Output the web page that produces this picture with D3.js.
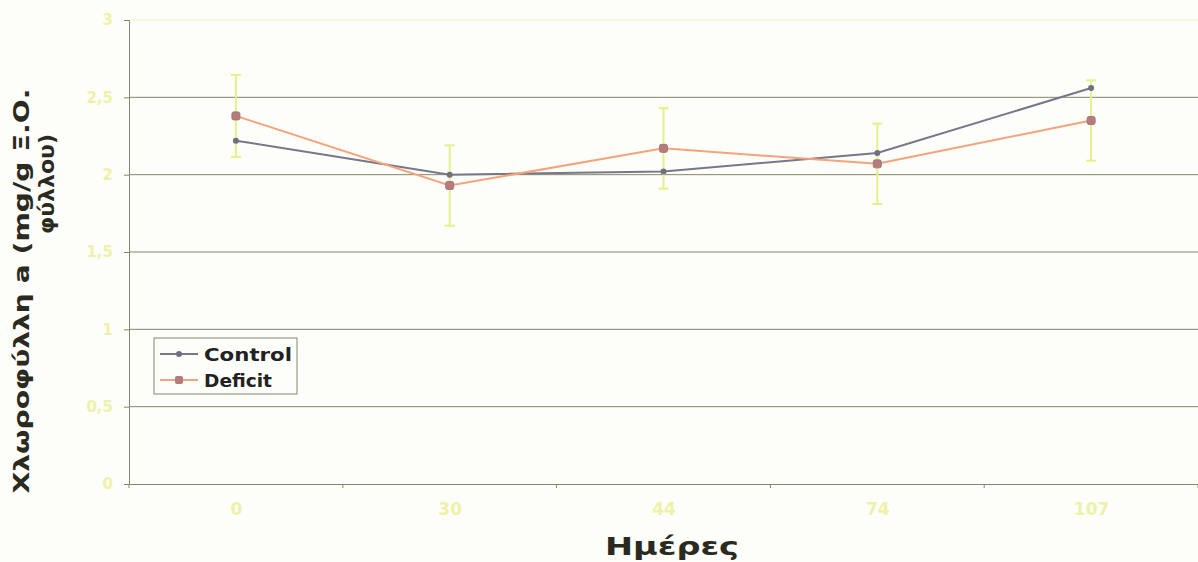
<!DOCTYPE html>
<html>
<head>
<meta charset="utf-8">
<script src="https://cdn.jsdelivr.net/npm/d3@7"></script>
<style>
  body { margin: 0; background: #fdfdf9; }
  text { font-family: "DejaVu Sans", Verdana, sans-serif; }
</style>
</head>
<body>
<script>
const days = ["0", "30", "44", "74", "107"];
const control = [2.22, 2.00, 2.02, 2.14, 2.56];
const deficit = [2.38, 1.93, 2.17, 2.07, 2.35];
const deficitErr = [0.265, 0.26, 0.26, 0.26, 0.26];
const yTicks = [0, 0.5, 1, 1.5, 2, 2.5, 3];

const width = 1198;
const height = 562;
const margin = { top: 20, right: 0, bottom: 78, left: 129 };

const svg = d3.select("body").append("svg")
    .attr("width", width)
    .attr("height", height);

const x = d3.scalePoint()
    .domain(days)
    .range([margin.left, width - margin.right])
    .padding(0.5);

const y = d3.scaleLinear()
    .domain([0, 3])
    .range([height - margin.bottom, margin.top]);

// gridlines
svg.append("g")
    .selectAll("line")
    .data(yTicks.filter(d => d > 0))
    .join("line")
    .attr("x1", margin.left)
    .attr("x2", width - margin.right)
    .attr("y1", d => y(d))
    .attr("y2", d => y(d))
    .attr("stroke", d => d === 3 ? "#eef2c8" : "#86866a")
    .attr("stroke-width", 1);

// y axis
const yAxis = svg.append("g")
    .attr("transform", `translate(${margin.left},0)`)
    .call(d3.axisLeft(y).tickValues(yTicks).tickSize(5)
        .tickFormat(d => String(d).replace(".", ",")));
yAxis.select(".domain").attr("stroke", "#86866a");
yAxis.selectAll(".tick line").attr("stroke", "#86866a");
yAxis.selectAll(".tick text")
    .attr("fill", "#eef2a8")
    .attr("font-size", 15)
    .attr("font-weight", "bold")
    .attr("x", -16);

// x axis
const step = x.step();
const xAxis = svg.append("g")
    .attr("transform", `translate(0,${y(0)})`)
    .call(d3.axisBottom(x).tickSize(0).tickPadding(19));
xAxis.select(".domain").attr("stroke", "#86866a");
xAxis.selectAll(".tick text")
    .attr("fill", "#eef2a8")
    .attr("font-size", 17)
    .attr("font-weight", "bold");
svg.append("g")
    .selectAll("line")
    .data(d3.range(days.length + 1))
    .join("line")
    .attr("x1", i => margin.left + i * step)
    .attr("x2", i => margin.left + i * step)
    .attr("y1", y(0))
    .attr("y2", y(0) + 4)
    .attr("stroke", "#86866a");

// error bars (Deficit)
const eb = svg.append("g")
    .attr("stroke", "#e6f088")
    .attr("stroke-width", 2);
days.forEach((d, i) => {
    const cx = x(d);
    const top = y(deficit[i] + deficitErr[i]);
    const bot = y(deficit[i] - deficitErr[i]);
    eb.append("line").attr("x1", cx).attr("x2", cx).attr("y1", top).attr("y2", bot);
    eb.append("line").attr("x1", cx - 5).attr("x2", cx + 5).attr("y1", top).attr("y2", top);
    eb.append("line").attr("x1", cx - 5).attr("x2", cx + 5).attr("y1", bot).attr("y2", bot);
});

const line = d3.line()
    .x((d, i) => x(days[i]))
    .y(d => y(d));

svg.append("path")
    .datum(control)
    .attr("fill", "none")
    .attr("stroke", "#76788a")
    .attr("stroke-width", 2)
    .attr("d", line);

svg.append("path")
    .datum(deficit)
    .attr("fill", "none")
    .attr("stroke", "#f4a47c")
    .attr("stroke-width", 2)
    .attr("d", line);

svg.append("g")
    .selectAll("circle")
    .data(control)
    .join("circle")
    .attr("cx", (d, i) => x(days[i]))
    .attr("cy", d => y(d))
    .attr("r", 3)
    .attr("fill", "#6e7080");

svg.append("g")
    .selectAll("rect")
    .data(deficit)
    .join("rect")
    .attr("x", (d, i) => x(days[i]) - 4)
    .attr("y", d => y(d) - 4)
    .attr("width", 8)
    .attr("height", 8)
    .attr("rx", 2)
    .attr("fill", "#b87a7a")
    .attr("stroke", "#9a7a7a")
    .attr("stroke-width", 1);

// legend
const legend = svg.append("g").attr("transform", "translate(154,338)");
legend.append("rect")
    .attr("width", 143)
    .attr("height", 56)
    .attr("fill", "#fdfdf9")
    .attr("stroke", "#86866a");
const items = [
    { name: "Control", color: "#76788a", y: 16, len: 88 },
    { name: "Deficit", color: "#f4a47c", y: 42, len: 68 }
];
items.forEach(it => {
    legend.append("line")
        .attr("x1", 6).attr("x2", 44)
        .attr("y1", it.y).attr("y2", it.y)
        .attr("stroke", it.color).attr("stroke-width", 2);
    legend.append("text")
        .attr("x", 50).attr("y", it.y + 7)
        .attr("font-size", 18)
        .attr("font-weight", "bold")
        .attr("fill", "#222")
        .attr("textLength", it.len)
        .attr("lengthAdjust", "spacingAndGlyphs")
        .text(it.name);
});
legend.append("circle").attr("cx", 25).attr("cy", 16).attr("r", 3).attr("fill", "#6e7080");
legend.append("rect").attr("x", 21).attr("y", 38).attr("width", 8).attr("height", 8)
    .attr("rx", 2).attr("fill", "#b87a7a");

// axis titles
svg.append("text")
    .attr("x", 672)
    .attr("y", 555)
    .attr("text-anchor", "middle")
    .attr("font-size", 25)
    .attr("font-weight", "bold")
    .attr("fill", "#2a2a20")
    .attr("textLength", 134)
    .attr("lengthAdjust", "spacingAndGlyphs")
    .text("Ημέρες");

svg.append("text")
    .attr("transform", "translate(29,291) rotate(-90)")
    .attr("text-anchor", "middle")
    .attr("font-size", 22)
    .attr("font-weight", "bold")
    .attr("fill", "#2a2a20")
    .attr("textLength", 405)
    .attr("lengthAdjust", "spacingAndGlyphs")
    .text("Χλωροφύλλη a (mg/g Ξ.Ο.");

svg.append("text")
    .attr("transform", "translate(54,184) rotate(-90)")
    .attr("text-anchor", "middle")
    .attr("font-size", 22)
    .attr("font-weight", "bold")
    .attr("fill", "#2a2a20")
    .text("φύλλου)");
</script>
</body>
</html>
